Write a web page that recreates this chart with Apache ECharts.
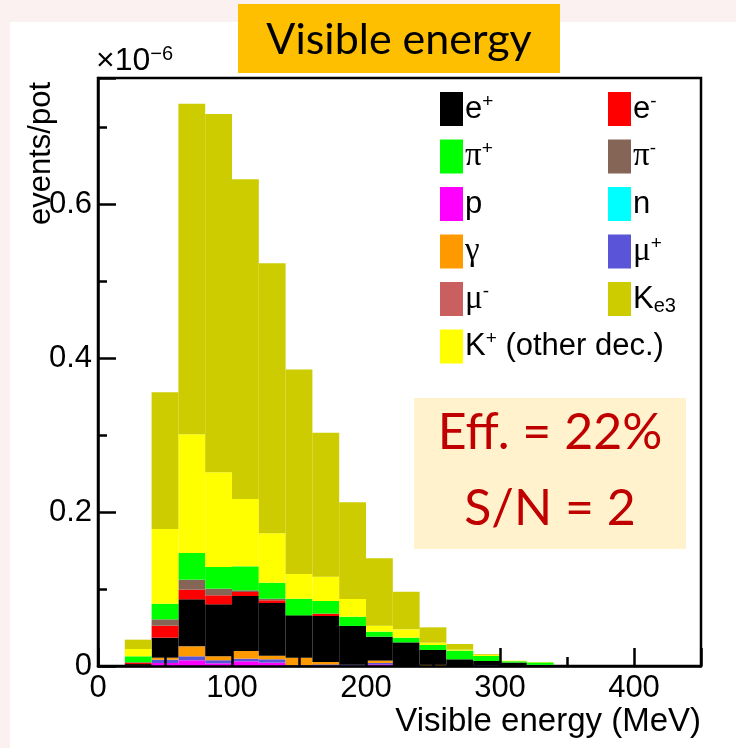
<!DOCTYPE html>
<html>
<head>
<meta charset="utf-8">
<script src="https://cdn.jsdelivr.net/npm/echarts@6/dist/echarts.min.js"></script>
<style>
  html, body { margin: 0; padding: 0; background: #fbf1f0; }
  #panel { position: absolute; left: 10px; top: 22px; right: 0; bottom: 0; background: #ffffff; }
  #chart { position: absolute; left: 0; top: 0; width: 736px; height: 748px; }
</style>
</head>
<body>
<div id="panel"></div>
<div id="chart"></div>
<script>
// Histogram binning (MeV): lower bin edges, 20 MeV wide
const binLow = [20, 40, 60, 80, 100, 120, 140, 160, 180, 200, 220, 240, 260, 280, 300, 320];
const binWidth = 20;

// Contributions per bin, events/pot in units of 1e-6
const proton   = [0, 0.0039, 0.0074, 0.0035, 0.0061, 0.0043, 0, 0, 0, 0.0020, 0, 0, 0, 0, 0, 0];
const muPlus   = [0, 0.0043, 0.0052, 0.0040, 0.0034, 0.0044, 0.0010, 0.0020, 0.0015, 0.0020, 0, 0, 0, 0.0012, 0, 0];
const gamma    = [0, 0.0026, 0.0129, 0.0051, 0.0100, 0.0047, 0.0098, 0.0032, 0, 0.0030, 0, 0.0015, 0, 0, 0, 0];
const muMinus  = [0.0008, 0, 0, 0, 0, 0, 0, 0, 0, 0, 0, 0, 0, 0, 0, 0];
const positron = [0.0017, 0.0260, 0.0611, 0.0675, 0.0714, 0.0684, 0.0550, 0.0597, 0.0505, 0.0311, 0.0307, 0.0193, 0.0087, 0.0053, 0.0045, 0.0015];
const electron = [0.0014, 0.0156, 0.0125, 0.0117, 0.0052, 0.0035, 0, 0.0031, 0, 0, 0, 0, 0, 0, 0, 0];
const piMinus  = [0.0010, 0.0082, 0.0130, 0.0086, 0.0022, 0.0021, 0, 0, 0, 0, 0, 0, 0, 0, 0, 0];
const piPlus   = [0.0077, 0.0204, 0.0347, 0.0282, 0.0311, 0.0208, 0.0216, 0.0164, 0.0120, 0.0065, 0.0061, 0.0065, 0.0113, 0.0065, 0.0017, 0.0032];
const kOther   = [0.0095, 0.0969, 0.1542, 0.1229, 0.0875, 0.0641, 0.0321, 0.0316, 0.0230, 0.0078, 0.0108, 0.0030, 0.0012, 0.0016, 0.0007, 0.0005];
const ke3      = [0.0121, 0.1775, 0.4290, 0.4655, 0.4151, 0.3507, 0.2655, 0.1870, 0.1255, 0.0874, 0.0489, 0.0199, 0.0074, 0.0010, 0, 0];
const neutron  = [0, 0, 0, 0, 0, 0, 0, 0, 0, 0, 0, 0, 0, 0, 0, 0];

// Axis ticks
const xTickLabels = [0, 100, 200, 300, 400];
const yTickLabels = [0, 0.2, 0.4, 0.6];

// Stacking order, bottom to top
const species = [
  { name: 'p',               color: '#ff00ff', values: proton },
  { name: 'μ+',              color: '#5a55d8', values: muPlus },
  { name: 'γ',               color: '#ff9900', values: gamma },
  { name: 'μ-',              color: '#c95f5f', values: muMinus },
  { name: 'e+',              color: '#000000', values: positron },
  { name: 'e-',              color: '#ff0000', values: electron },
  { name: 'π-',              color: '#856555', values: piMinus },
  { name: 'π+',              color: '#00ff00', values: piPlus },
  { name: 'K+ (other dec.)', color: '#ffff00', values: kOther },
  { name: 'Ke3',             color: '#cccc00', values: ke3 },
  { name: 'n',               color: '#00ffff', values: neutron }
];

const legendLeft  = ['e+', 'π+', 'p', 'γ', 'μ-', 'K+ (other dec.)'];
const legendRight = ['e-', 'π-', 'n', 'μ+', 'Ke3'];
const legendText = {
  'e+': '{b|e}{sup|+}', 'e-': '{b|e}{sup|-}',
  'π+': '{g|π}{sup|+}', 'π-': '{g|π}{sup|-}',
  'p': '{b|p}', 'n': '{b|n}', 'γ': '{g|γ}',
  'μ+': '{g|μ}{sup|+}', 'μ-': '{g|μ}{sup|-}',
  'Ke3': '{b|K}{sub|e3}',
  'K+ (other dec.)': '{b|K}{sup|+}{b| (other dec.)}'
};

const SANS = '"Liberation Sans", Arial, sans-serif';
const SERIF = '"Liberation Serif", "DejaVu Serif", serif';

// Cumulative stack of all contributions
const base = binLow.map(() => 0);
const series = species.map(sp => {
  const data = binLow.map((lo, i) => {
    const y0 = base[i];
    const y1 = y0 + sp.values[i];
    base[i] = y1;
    return [lo, lo + binWidth, y0, y1];
  });
  return {
    type: 'custom',
    name: sp.name,
    z: 2,
    itemStyle: { color: sp.color },
    encode: { x: [0, 1], y: [2, 3] },
    data: data,
    renderItem: function (params, api) {
      if (api.value(3) - api.value(2) <= 0) return { type: 'group', children: [] };
      const p0 = api.coord([api.value(0), api.value(3)]);
      const p1 = api.coord([api.value(1), api.value(2)]);
      return {
        type: 'rect',
        shape: { x: p0[0], y: p0[1], width: p1[0] - p0[0], height: p1[1] - p0[1] },
        style: { fill: api.visual('color') }
      };
    }
  };
});

const richLegend = {
  b:   { fontFamily: SANS,  fontSize: 31, lineHeight: 34, color: '#000' },
  g:   { fontFamily: SERIF, fontSize: 33, lineHeight: 34, color: '#000' },
  sup: { fontFamily: SANS,  fontSize: 19, lineHeight: 18, verticalAlign: 'top', color: '#000' },
  sub: { fontFamily: SANS,  fontSize: 20, lineHeight: 8, verticalAlign: 'bottom', color: '#000' }
};

function legendBlock(names, left) {
  return {
    data: names,
    orient: 'vertical',
    left: left,
    top: 92,
    padding: 0,
    itemWidth: 23,
    itemHeight: 34,
    itemGap: 13.5,
    icon: 'rect',
    selectedMode: false,
    formatter: name => legendText[name],
    textStyle: { rich: richLegend, padding: [0, 0, 0, -3] }
  };
}

const X_MIN = 0, X_MAX = 450, Y_MIN = 0, Y_MAX = 0.7636;
const axisLineStyle = { color: '#000', width: 2.5 };

const option = {
  animation: false,
  backgroundColor: 'transparent',
  grid: {
    left: 98, right: 35, top: 78, bottom: 82,
    show: true, borderColor: '#000', borderWidth: 2.5,
    backgroundColor: 'transparent',
    outerBoundsMode: 'none'
  },
  legend: [legendBlock(legendLeft, 440), legendBlock(legendRight, 608)],
  xAxis: [
    {
      type: 'value', min: X_MIN, max: X_MAX, interval: 100, z: 5,
      axisLine: { show: true, lineStyle: axisLineStyle },
      axisTick: { show: true, inside: true, length: 18, lineStyle: { color: '#000', width: 2.5 } },
      splitLine: { show: false },
      axisLabel: {
        margin: 7, color: '#000', fontFamily: SANS, fontSize: 31,
        formatter: v => (xTickLabels.indexOf(v) >= 0 ? String(v) : '')
      }
    },
    {
      type: 'value', min: X_MIN, max: X_MAX, interval: 50, z: 5, position: 'bottom',
      axisLine: { show: false },
      axisTick: { show: true, inside: true, length: 9, lineStyle: { color: '#000', width: 2.5 } },
      splitLine: { show: false },
      axisLabel: { show: false }
    }
  ],
  yAxis: [
    {
      type: 'value', min: Y_MIN, max: Y_MAX, interval: 0.2, z: 5,
      axisLine: { show: true, lineStyle: axisLineStyle },
      axisTick: { show: true, inside: true, length: 18, lineStyle: { color: '#000', width: 2.5 } },
      splitLine: { show: false },
      axisLabel: {
        margin: 6, color: '#000', fontFamily: SANS, fontSize: 31,
        formatter: v => {
          const hit = yTickLabels.find(t => Math.abs(t - v) < 1e-9);
          return hit === undefined ? '' : String(hit);
        }
      }
    },
    {
      type: 'value', min: Y_MIN, max: Y_MAX, interval: 0.1, z: 5, position: 'left',
      axisLine: { show: false },
      axisTick: { show: true, inside: true, length: 9, lineStyle: { color: '#000', width: 2.5 } },
      splitLine: { show: false },
      axisLabel: { show: false }
    }
  ],
  graphic: [
    { type: 'rect', shape: { x: 238, y: 4, width: 322, height: 69 }, style: { fill: '#fdbf00' }, z: 10 },
    { type: 'text', x: 399, y: 40, z: 11,
      style: { text: 'Visible energy', fontFamily: 'Lato, "Noto Sans", sans-serif', fontSize: 43,
               fill: '#000', align: 'center', verticalAlign: 'middle' } },
    { type: 'text', x: 96, y: 78, z: 11,
      style: { text: '{a|×10}{b|−6}', align: 'left', verticalAlign: 'bottom',
               rich: { a: { fontFamily: SANS, fontSize: 32, lineHeight: 34, color: '#000' },
                       b: { fontFamily: SANS, fontSize: 20, lineHeight: 18, verticalAlign: 'top', color: '#000' } } } },
    { type: 'text', x: 41, y: 82, rotation: Math.PI / 2, z: 11,
      style: { text: 'events/pot', fontFamily: SANS, fontSize: 31, fill: '#000',
               align: 'right', verticalAlign: 'middle' } },
    { type: 'text', x: 701, y: 722, z: 11,
      style: { text: 'Visible energy (MeV)', fontFamily: SANS, fontSize: 33, fill: '#000',
               align: 'right', verticalAlign: 'middle' } },
    { type: 'rect', shape: { x: 414, y: 398, width: 272, height: 151 }, style: { fill: '#fff2cc' }, z: 10 },
    { type: 'text', x: 550, y: 433, z: 11,
      style: { text: 'Eff. = 22%', fontFamily: 'Lato, "Noto Sans", sans-serif', fontSize: 50,
               fill: '#c00000', align: 'center', verticalAlign: 'middle' } },
    { type: 'text', x: 550, y: 509, z: 11,
      style: { text: 'S/N = 2', fontFamily: 'Lato, "Noto Sans", sans-serif', fontSize: 50,
               fill: '#c00000', align: 'center', verticalAlign: 'middle' } }
  ],
  series: series
};

const chart = echarts.init(document.getElementById('chart'), null, { renderer: 'canvas' });
chart.setOption(option);
</script>
</body>
</html>
